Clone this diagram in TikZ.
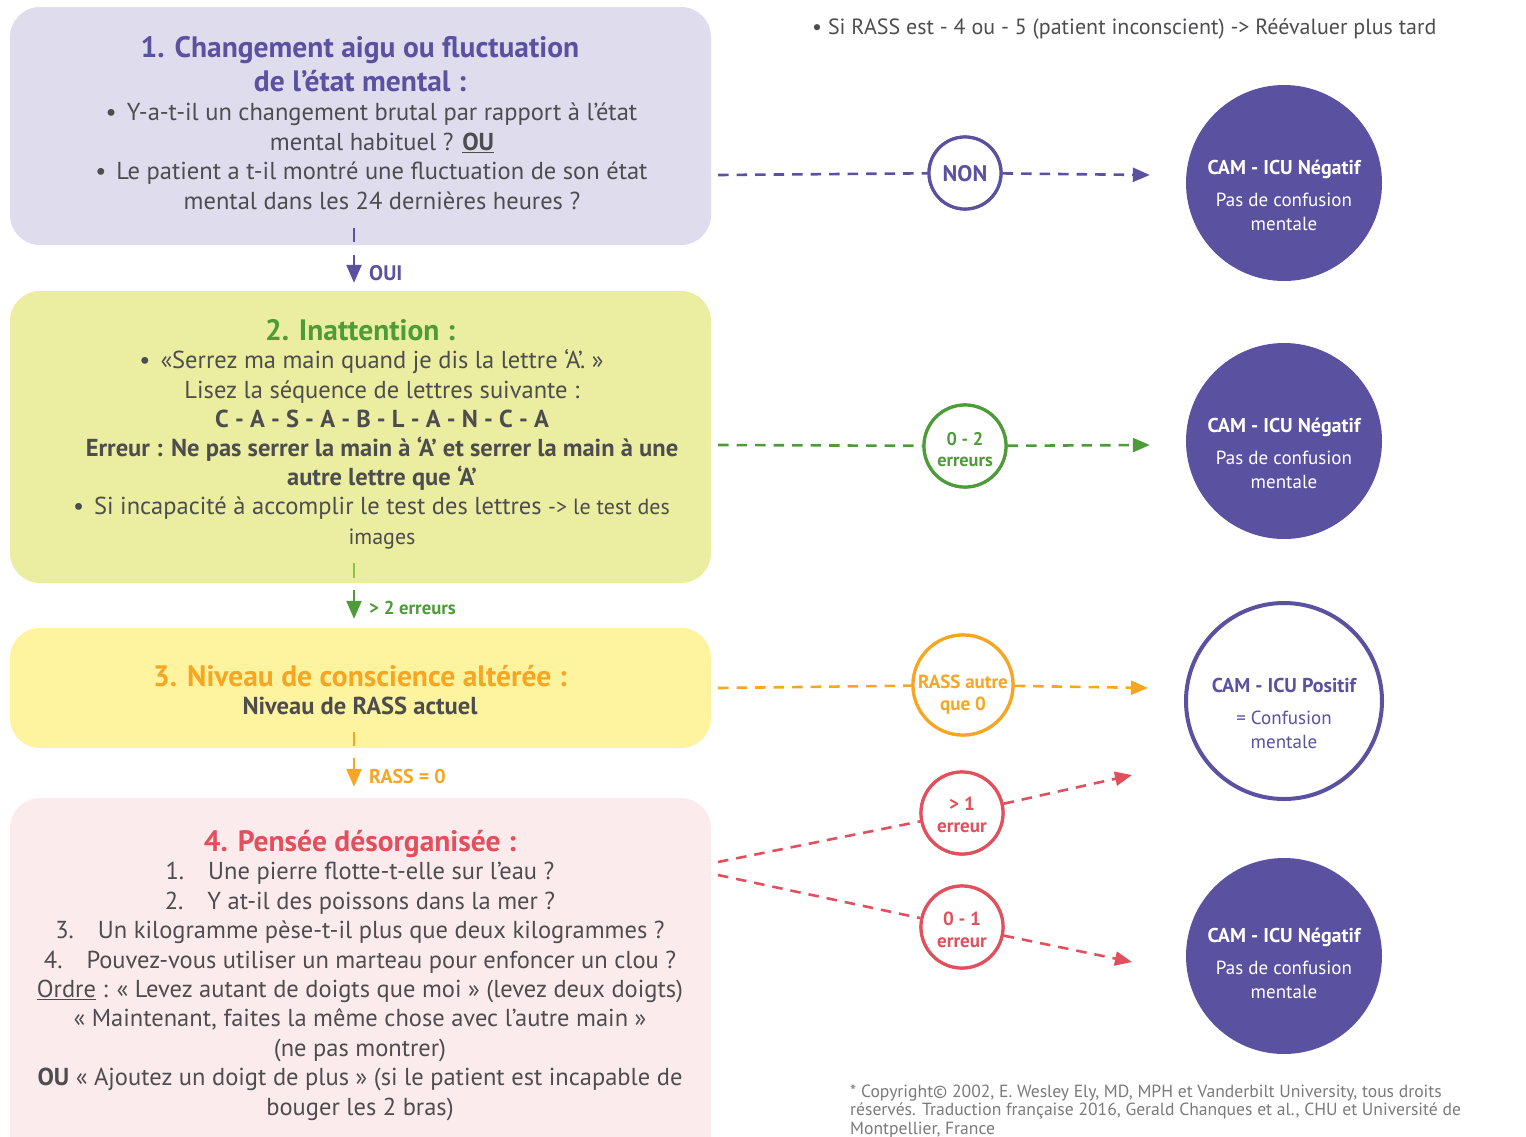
\documentclass[tikz,border=0pt]{standalone}
\usepackage{fontspec}
\setmainfont{PT Sans}
\usetikzlibrary{arrows.meta}
\definecolor{purpleC}{HTML}{5B51A1}
\definecolor{lavC}{HTML}{DEDCED}
\definecolor{greenC}{HTML}{4E9B3A}
\definecolor{greenL}{HTML}{8CC63F}
\definecolor{greenBox}{HTML}{EBEDA0}
\definecolor{yellowBox}{HTML}{FEF39E}
\definecolor{orangeC}{HTML}{F6A623}
\definecolor{pinkBox}{HTML}{FCEBEC}
\definecolor{redC}{HTML}{E1505C}
\definecolor{textC}{HTML}{4D4D4F}
\definecolor{copyC}{HTML}{7A7A7C}
\newcommand{\fs}[2]{\fontsize{#1}{#2}\selectfont}
\newcommand{\bul}{\llap{•\hspace{10pt}}}
\begin{document}
\begin{tikzpicture}[x=1pt,y=-1pt,
  box/.style={rectangle, rounded corners=30pt, minimum width=701pt, inner sep=0pt},
  body/.style={anchor=base, align=center, text=textC, inner sep=0pt},
  ttl/.style={anchor=base, align=center, inner sep=0pt, font=\fs{29.5}{34}\bfseries},
  conn/.style={line width=2.6pt, dash pattern=on 10.5pt off 8pt, -{Triangle[length=17pt,width=14pt]}},
  vline/.style={line width=2.6pt},
  vtip/.style={line width=2.6pt, -{Triangle[length=18pt,width=15pt]}},
  smallc/.style={circle, draw, line width=3.2pt, fill=white, inner sep=0pt},
  bigc/.style={circle, fill=purpleC, inner sep=0pt, minimum size=196pt},
  ctext/.style={align=center, inner sep=0pt, font=\fs{19}{24}\bfseries},
]
\useasboundingbox (0,0) rectangle (1526,1136);
\clip (0,0) rectangle (1526,1136);

% ---- boxes
\node[box, fill=lavC, minimum height=238pt] (b1) at (360.5,126) {};
\node[box, fill=greenBox, minimum height=292pt] (b2) at (360.5,437) {};
\node[box, fill=yellowBox, minimum height=120pt] (b3) at (360.5,688) {};
\node[box, fill=pinkBox, minimum height=380pt] (b4) at (360.5,988) {};

% ---- box 1 text (anchor = baseline of last line)
\node[ttl, text=purpleC] (t1) at (360,91) {1. Changement aigu ou fluctuation\\de l’état mental :};
\node[body, font=\fs{24.5}{29.4}] (x1) at (382,209) {\bul Y-a-t-il un changement brutal par rapport à l’état\\mental habituel ? \textbf{\underline{OU}}\\\bul Le patient a t-il montré une fluctuation de son état\\mental dans les 24 dernières heures ?};

% ---- box 2 text
\node[ttl, text=greenC] (t2) at (360,340) {2. Inattention :};
\node[body, font=\fs{24.5}{29.2}] (x2) at (382,544) {\bul «Serrez ma main quand je dis la lettre ‘A’. »\\Lisez la séquence de lettres suivante :\\\textbf{C - A - S - A - B - L - A - N - C - A}\\\textbf{Erreur : Ne pas serrer la main à ‘A’ et serrer la main à une}\\\textbf{autre lettre que ‘A’}\\\bul Si incapacité à accomplir le test des lettres {\fs{22}{29.2}-> le test des}\\{\fs{22}{29.2}images}};

% ---- box 3 text
\node[ttl, text=orangeC] (t3) at (360,686) {3. Niveau de conscience altérée :};
\node[body, font=\fs{24.5}{29}\bfseries] (x3) at (360,714) {Niveau de RASS actuel};

% ---- box 4 text
\node[ttl, text=redC] (t4) at (360,851) {4. Pensée désorganisée :};
\node[body, font=\fs{24.5}{29.4}] (x4) at (360,1115) {1.\hspace{24pt}Une pierre flotte-t-elle sur l’eau ?\\2.\hspace{24pt}Y at-il des poissons dans la mer ?\\3.\hspace{24pt}Un kilogramme pèse-t-il plus que deux kilogrammes ?\\4.\hspace{24pt}Pouvez-vous utiliser un marteau pour enfoncer un clou ?\\\underline{Ordre} : « Levez autant de doigts que moi » (levez deux doigts)\\« Maintenant, faites la même chose avec l’autre main »\\(ne pas montrer)\\\textbf{OU} « Ajoutez un doigt de plus » (si le patient est incapable de\\bouger les 2 bras)};

% ---- vertical arrows
\draw[vline, purpleC] ([xshift=-6.5pt,yshift=17pt]b1.south) -- ++(0,14);
\draw[vtip, purpleC] ([xshift=-6.5pt,yshift=-10pt]b1.south) -- ([xshift=-6.5pt,yshift=8pt]b2.north);
\node[anchor=base west, inner sep=0pt, text=purpleC, font=\fs{21}{22}\bfseries] (l1) at (369,280) {OUI};

\draw[vline, greenL] ([xshift=-6.5pt,yshift=20pt]b2.south) -- ++(0,15);
\draw[vtip, greenC] ([xshift=-6.5pt,yshift=-7pt]b2.south) -- ([xshift=-6.5pt,yshift=9pt]b3.north);
\node[anchor=base west, inner sep=0pt, text=greenC, font=\fs{18.7}{20}\bfseries] (l2) at (369,614) {> 2 erreurs};

\draw[vline, orangeC] ([xshift=-6.5pt,yshift=16pt]b3.south) -- ++(0,14);
\draw[vtip, orangeC] ([xshift=-6.5pt,yshift=-10pt]b3.south) -- ([xshift=-6.5pt,yshift=11pt]b4.north);
\node[anchor=base west, inner sep=0pt, text=orangeC, font=\fs{20}{22}\bfseries] (l3) at (369,783) {RASS = 0};

% ---- right side circles
\node[bigc] (n1) at (1284,183) {};
\node[bigc] (n2) at (1284,441) {};
\node[circle, draw=purpleC, line width=4pt, fill=white, inner sep=0pt, minimum size=196pt] (p1) at (1284,701) {};
\node[bigc] (n3) at (1284,956) {};

\node[ctext, text=white] (n1t) at (1284,195) {\fs{20}{24}\bfseries CAM - ICU Négatif\\[8pt]\fs{19}{24}\mdseries Pas de confusion\\\fs{19}{24}\mdseries mentale};
\node[ctext, text=white] (n2t) at (1284,453) {\fs{20}{24}\bfseries CAM - ICU Négatif\\[8pt]\fs{19}{24}\mdseries Pas de confusion\\\fs{19}{24}\mdseries mentale};
\node[ctext, text=purpleC] (p1t) at (1284,713) {\fs{20}{24}\bfseries CAM - ICU Positif\\[8pt]\fs{19}{24}\mdseries = Confusion\\\fs{19}{24}\mdseries mentale};
\node[ctext, text=white] (n3t) at (1284,963) {\fs{20}{24}\bfseries CAM - ICU Négatif\\[8pt]\fs{19}{24}\mdseries Pas de confusion\\\fs{19}{24}\mdseries mentale};

\node[smallc, draw=purpleC, minimum size=72pt] (c1) at (965,173) {};
\node[smallc, draw=greenC, minimum size=82pt] (c2) at (965,446) {};
\node[smallc, draw=orangeC, minimum size=100pt] (c3) at (963,685) {};
\node[smallc, draw=redC, minimum size=82pt] (c4) at (962,813) {};
\node[smallc, draw=redC, minimum size=82pt] (c5) at (962,927) {};

\coordinate (s4) at (718,862);
\coordinate (s5) at (718,875);
\coordinate (e4) at (1132,775);
\coordinate (e5) at (1132,962);

% ---- connectors
\draw[conn, purpleC, -] ([xshift=7pt]b1.east |- 0,175) -- (c1);
\draw[conn, purpleC] (c1) -- ([xshift=-36pt]n1.west |- 0,175);
\draw[conn, greenC, -] ([xshift=7pt]b2.east |- 0,445) -- (c2);
\draw[conn, greenC] (c2) -- ([xshift=-36pt]n2.west |- 0,445);
\draw[conn, orangeC, -] ([xshift=7pt]b3.east |- 0,688) -- (c3);
\draw[conn, orangeC] (c3) -- ([xshift=-36pt]p1.west |- 0,688);
\draw[conn, redC, -] (s4) -- (c4);
\draw[conn, redC] (c4) -- (e4);
\draw[conn, redC, -] (s5) -- (c5);
\draw[conn, redC] (c5) -- (e5);

% redraw small circles on top
\node[smallc, draw=purpleC, minimum size=72pt] at (c1) {};
\node[smallc, draw=greenC, minimum size=82pt] at (c2) {};
\node[smallc, draw=orangeC, minimum size=100pt] at (c3) {};
\node[smallc, draw=redC, minimum size=82pt] at (c4) {};
\node[smallc, draw=redC, minimum size=82pt] at (c5) {};

\node[ctext, text=purpleC, font=\fs{22.5}{24}\bfseries] (c1t) at (965,174) {NON};
\node[ctext, text=greenC, font=\fs{18.3}{21}\bfseries] (c2t) at (965,450) {0 - 2\\erreurs};
\node[ctext, text=orangeC, font=\fs{19}{22}\bfseries] (c3t) at (963,695) {RASS autre\\que 0};
\node[ctext, text=redC, font=\fs{19}{22}\bfseries] (c4t) at (962,815) {> 1\\erreur};
\node[ctext, text=redC, font=\fs{19}{22}\bfseries] (c5t) at (962,930) {0 - 1\\erreur};

% ---- notes
\node[anchor=base west, inner sep=0pt, text=textC, font=\fs{22}{26}] (note) at (812,34) {• Si RASS est - 4 ou - 5 (patient inconscient) -> Réévaluer plus tard};
\node[anchor=base west, inner sep=0pt, align=left, text=copyC, font=\fs{17.6}{18.5}] (copy) at (850,1134) {* Copyright© 2002, E. Wesley Ely, MD, MPH et Vanderbilt University, tous droits\\réservés. Traduction française 2016, Gerald Chanques et al., CHU et Université de\\Montpellier, France};
\end{tikzpicture}
\end{document}
